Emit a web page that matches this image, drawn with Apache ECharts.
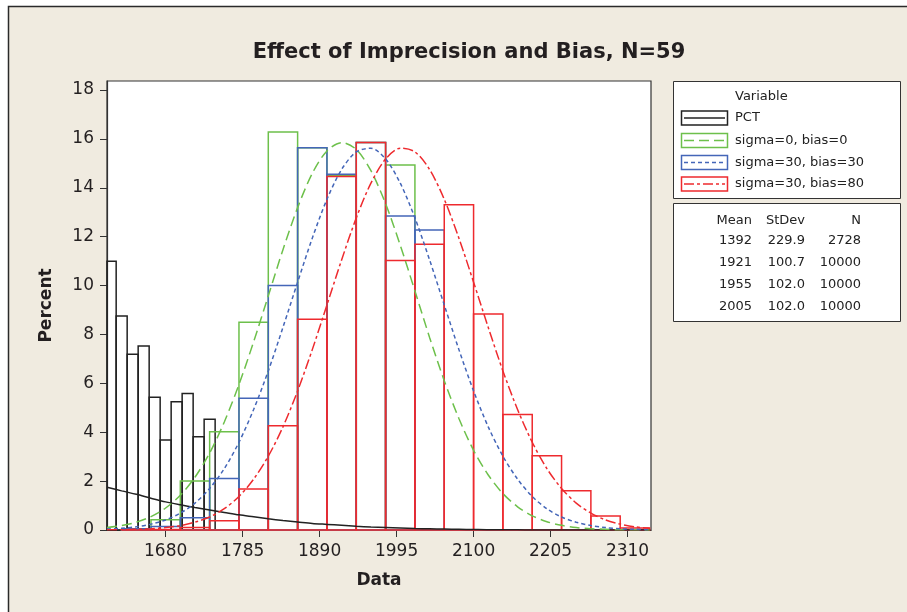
<!DOCTYPE html>
<html>
<head>
<meta charset="utf-8">
<script src="https://cdn.jsdelivr.net/npm/echarts@6/dist/echarts.min.js"></script>
<style>
  html, body { margin: 0; padding: 0; background: #fff; }
  #chart { width: 907px; height: 612px; }
</style>
</head>
<body>
<div id="chart"></div>
<script>
// histogram bins (percent)
const pctCenters = [1605, 1620, 1635, 1650, 1665, 1680, 1695, 1710, 1725, 1740]
const pctValues = [11.0, 8.76, 7.19, 7.53, 5.43, 3.68, 5.25, 5.58, 3.82, 4.53]

const binCenters = [1640, 1680, 1720, 1760, 1800, 1840, 1880, 1920, 1960, 2000, 2040, 2080, 2120, 2160, 2200, 2240, 2280, 2320]
const greenBars = [0.05, 0.42, 2.0, 4.02, 8.5, 16.28, 15.64, 14.5, 15.85, 14.93, 0, 0, 0, 0, 0, 0, 0, 0]
const blueBars = [0.05, 0.14, 0.5, 2.11, 5.39, 10.0, 15.64, 14.55, 15.85, 12.85, 12.27, 0, 0, 0, 0, 0, 0, 0]
const redBars = [0, 0.02, 0.1, 0.38, 1.68, 4.27, 8.62, 14.46, 15.85, 11.03, 11.69, 13.31, 8.84, 4.73, 3.04, 1.61, 0.57, 0.08]

// fitted curves
const curveX = [1600, 1620, 1640, 1660, 1680, 1700, 1720, 1740, 1760, 1780, 1800, 1820, 1840, 1860, 1880, 1900, 1920, 1940, 1960, 1980,
  2000, 2020, 2040, 2060, 2080, 2100, 2120, 2140, 2160, 2180, 2200, 2220, 2240, 2260, 2280, 2300, 2320, 2340]
const pctFit = [1.75, 1.6, 1.46, 1.3, 1.15, 1.03, 0.92, 0.82, 0.72, 0.62, 0.54, 0.46, 0.39, 0.33, 0.27, 0.23, 0.19, 0.15, 0.12, 0.1,
  0.08, 0.06, 0.05, 0.04, 0.03, 0.02, 0.01, 0.01, 0.01, 0, 0, 0, 0, 0, 0, 0, 0, 0]
const greenFit = [0.1, 0.18, 0.32, 0.55, 0.9, 1.42, 2.16, 3.15, 4.42, 5.95, 7.7, 9.58, 11.47, 13.19, 14.59, 15.51, 15.85, 15.57, 14.7, 13.35,
  11.65, 9.78, 7.88, 6.11, 4.56, 3.26, 2.25, 1.49, 0.95, 0.58, 0.34, 0.19, 0.1, 0.05, 0.03, 0.01, 0.01, 0]
const blueFit = [0.04, 0.07, 0.13, 0.24, 0.41, 0.69, 1.1, 1.7, 2.51, 3.59, 4.93, 6.51, 8.29, 10.14, 11.94, 13.53, 14.75, 15.47, 15.62, 15.18,
  14.19, 12.77, 11.05, 9.21, 7.38, 5.69, 4.22, 3.02, 2.08, 1.37, 0.87, 0.53, 0.32, 0.18, 0.1, 0.05, 0.03, 0.01]
const redFit = [0.01, 0.01, 0.03, 0.05, 0.1, 0.18, 0.32, 0.53, 0.87, 1.37, 2.08, 3.02, 4.22, 5.69, 7.38, 9.21, 11.05, 12.77, 14.19, 15.18,
  15.62, 15.47, 14.75, 13.53, 11.94, 10.14, 8.29, 6.51, 4.93, 3.59, 2.51, 1.7, 1.1, 0.69, 0.41, 0.24, 0.13, 0.07]

const xTicks = [1680, 1785, 1890, 1995, 2100, 2205, 2310]
const yTicks = [0, 2, 4, 6, 8, 10, 12, 14, 16, 18]

const legendNames = ['PCT', 'sigma=0, bias=0', 'sigma=30, bias=30', 'sigma=30, bias=80']
const statHeader = ['Mean', 'StDev', 'N']
const statRows = [
  ['1392', '229.9', '2728'],
  ['1921', '100.7', '10000'],
  ['1955', '102.0', '10000'],
  ['2005', '102.0', '10000']
]

const colors = ['#222222', '#6DC04B', '#4466B8', '#EE2A2E']
const dashes = [null, [10, 5], [4, 3], [10, 3, 3, 3]]
const font = 'DejaVu Sans'

const histSeries = (name, centers, values, width, color) => ({
  name,
  type: 'custom',
  z: 3,
  data: centers.map((c, i) => [c, values[i]]),
  renderItem: (params, api) => {
    const p0 = api.coord([api.value(0) - width / 2, api.value(1)])
    const p1 = api.coord([api.value(0) + width / 2, 0])
    const cs = params.coordSys
    const rect = echarts.graphic.clipRectByRect(
      { x: p0[0], y: p0[1], width: p1[0] - p0[0], height: p1[1] - p0[1] },
      { x: cs.x, y: cs.y, width: cs.width, height: cs.height }
    )
    if (!rect) return
    return { type: 'rect', shape: rect, style: { fill: 'none', stroke: color, lineWidth: 1.5 } }
  }
})

const fitSeries = (name, values, i) => ({
  name,
  type: 'line',
  z: 4,
  smooth: 0.3,
  showSymbol: false,
  silent: true,
  data: curveX.map((x, k) => [x, values[k]]),
  lineStyle: { color: colors[i], width: 1.5, type: dashes[i] || 'solid' }
})

// legend boxes + stats table
const graphics = [
  { type: 'rect', z: -10, silent: true, shape: { x: 8.5, y: 6.5, width: 920, height: 620 }, style: { fill: '#F0EBE0', stroke: '#2a2a2a', lineWidth: 1.5 } },
  { type: 'rect', silent: true, shape: { x: 673.5, y: 81.5, width: 227, height: 117 }, style: { fill: '#fff', stroke: '#333', lineWidth: 1 } },
  { type: 'rect', silent: true, shape: { x: 673.5, y: 203.5, width: 227, height: 118 }, style: { fill: '#fff', stroke: '#333', lineWidth: 1 } },
  { type: 'text', silent: true, x: 735, y: 97, style: { text: 'Variable', font: '13px ' + font, fill: '#222', verticalAlign: 'middle' } }
]
const rowY = [118, 140.5, 162.5, 184]
legendNames.forEach((n, i) => {
  const y = rowY[i]
  graphics.push(
    { type: 'rect', silent: true, shape: { x: 681.5, y: y - 7, width: 46, height: 14 }, style: { fill: 'none', stroke: colors[i], lineWidth: 1.5 } },
    { type: 'line', silent: true, shape: { x1: 684, y1: y, x2: 725, y2: y }, style: { stroke: colors[i], lineWidth: 1.5, lineDash: dashes[i] } },
    { type: 'text', silent: true, x: 735, y, style: { text: n, font: '13px ' + font, fill: '#222', verticalAlign: 'middle' } }
  )
})
const colRight = [752, 805, 861]
const statY = [221, 241, 263, 285, 307]
;[statHeader].concat(statRows).forEach((row, r) => {
  row.forEach((t, c) => {
    graphics.push({ type: 'text', silent: true, x: colRight[c], y: statY[r], style: { text: t, font: '13px ' + font, fill: '#222', align: 'right', verticalAlign: 'middle' } })
  })
})

const chart = echarts.init(document.getElementById('chart'))
const option = {
  backgroundColor: '#fff',
  animation: false,
  textStyle: { fontFamily: font },
  title: {
    text: 'Effect of Imprecision and Bias, N=59',
    left: 464,
    top: 37,
    textAlign: 'center',
    textStyle: { fontFamily: 'DejaVu Sans', fontWeight: 'bold', fontSize: 21, color: '#231F20' }
  },
  grid: {
    left: 107, top: 81, width: 544, height: 449,
    show: true, backgroundColor: '#fff', borderColor: '#333', borderWidth: 1.2,
    outerBoundsMode: 'none'
  },
  xAxis: {
    type: 'value',
    min: 1600,
    max: 2342,
    name: 'Data',
    nameLocation: 'middle',
    nameGap: 42,
    nameTextStyle: { fontWeight: 'bold', fontSize: 17, color: '#231F20' },
    axisLine: { show: true, lineStyle: { color: '#333', width: 1.2 } },
    axisTick: { show: true, length: 7, lineStyle: { color: '#333' }, customValues: xTicks },
    axisLabel: { customValues: xTicks, margin: 13, fontSize: 17, color: '#231F20', formatter: v => String(v) },
    splitLine: { show: false }
  },
  yAxis: {
    type: 'value',
    min: 0,
    max: 18.37,
    name: 'Percent',
    nameLocation: 'middle',
    nameRotate: 90,
    nameGap: 52,
    nameTextStyle: { fontWeight: 'bold', fontSize: 17, color: '#231F20' },
    axisLine: { show: true, lineStyle: { color: '#333', width: 1.2 } },
    axisTick: { show: true, length: 7, lineStyle: { color: '#333' }, customValues: yTicks },
    axisLabel: { customValues: yTicks, margin: 13, fontSize: 17, color: '#231F20', formatter: v => String(v) },
    splitLine: { show: false }
  },
  series: [
    histSeries('PCT', pctCenters, pctValues, 15, colors[0]),
    histSeries('sigma=0, bias=0', binCenters, greenBars, 40, colors[1]),
    histSeries('sigma=30, bias=30', binCenters, blueBars, 40, colors[2]),
    histSeries('sigma=30, bias=80', binCenters, redBars, 40, colors[3]),
    fitSeries('PCT fit', pctFit, 0),
    fitSeries('sigma=0, bias=0 fit', greenFit, 1),
    fitSeries('sigma=30, bias=30 fit', blueFit, 2),
    fitSeries('sigma=30, bias=80 fit', redFit, 3)
  ],
  graphic: graphics
}
chart.setOption(option)
window.addEventListener('resize', () => chart.resize())
</script>
</body>
</html>
